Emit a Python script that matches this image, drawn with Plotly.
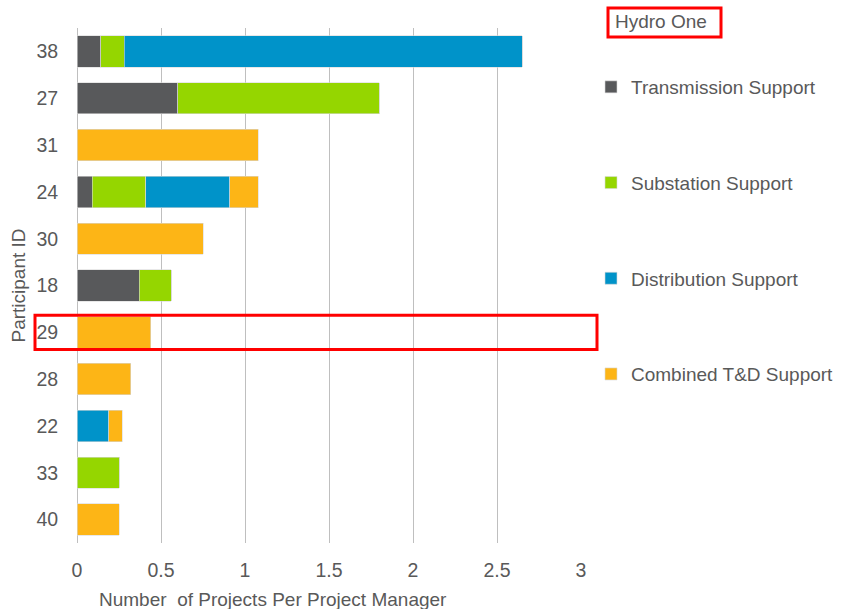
import plotly.graph_objects as go

participants = ["38", "27", "31", "24", "30", "18", "29", "28", "22", "33", "40"]
transmission = [0.14, 0.60, 0, 0.09, 0, 0.37, 0, 0, 0, 0, 0]
substation = [0.14, 1.20, 0, 0.32, 0, 0.19, 0, 0, 0, 0.25, 0]
distribution = [2.37, 0, 0, 0.50, 0, 0, 0, 0, 0.19, 0, 0]
combined = [0, 0, 1.08, 0.17, 0.75, 0, 0.44, 0.32, 0.08, 0, 0.25]

series_names = ["Transmission Support", "Substation Support", "Distribution Support", "Combined T&D Support"]
series_values = [transmission, substation, distribution, combined]
series_colors = ["#58595B", "#95D600", "#0093C9", "#FDB516"]

highlight = "29"
company = "Hydro One"
x_ticks = [0, 0.5, 1, 1.5, 2, 2.5, 3]
x_tick_text = ["0", "0.5", "1", "1.5", "2", "2.5", "3"]

FONT = "Arial, Liberation Sans, sans-serif"
TXT = "#595959"
L, R, T, B = 77, 581, 28, 543
PW, PH = R - L, B - T

fig = go.Figure()
for name, vals, col in zip(series_names, series_values, series_colors):
    fig.add_trace(go.Bar(
        y=participants, x=vals, name=name, orientation="h",
        marker=dict(color=col, line=dict(color="#D9D9D9", width=0.6)),
        legendgroup=name,
    ))

fig.update_layout(
    width=842, height=609,
    margin=dict(l=L, r=842 - R, t=T, b=609 - B, autoexpand=False),
    barmode="stack", bargap=0.33,
    plot_bgcolor="white", paper_bgcolor="white",
    font=dict(family=FONT, size=19, color=TXT),
    showlegend=True,
    legend=dict(
        x=(591 - L) / PW, xanchor="left", y=1 - (68 - T) / PH, yanchor="top",
        font=dict(size=19, color=TXT),
        tracegroupgap=68,
        traceorder="grouped",
        itemwidth=30,
        bgcolor="rgba(0,0,0,0)",
    ),
    xaxis=dict(
        range=[0, 3], tickvals=x_ticks, ticktext=x_tick_text,
        showgrid=True, gridcolor="#BFBFBF", gridwidth=1,
        zeroline=True, zerolinecolor="#BFBFBF", zerolinewidth=1,
        showline=False, ticks="outside", ticklen=10, tickcolor="rgba(0,0,0,0)",
        tickfont=dict(size=19.5, color=TXT), fixedrange=True,
    ),
    yaxis=dict(
        type="category", categoryorder="array", categoryarray=participants,
        autorange="reversed", showgrid=False, zeroline=False, showline=False,
        ticks="outside", ticklen=14, tickcolor="rgba(0,0,0,0)",
        tickfont=dict(size=19.5, color=TXT),
    ),
)

# axis titles
fig.add_annotation(text="Number  of Projects Per Project Manager", xref="paper", yref="paper",
                   x=(273 - L) / PW, y=-(599 - B) / PH, xanchor="center", yanchor="middle",
                   showarrow=False, font=dict(size=19, color=TXT))
fig.add_annotation(text="Participant ID", xref="paper", yref="paper",
                   x=-(L - 18) / PW, y=0.5, xanchor="center", yanchor="middle", textangle=-90,
                   showarrow=False, font=dict(size=19, color=TXT))

# company label with red box
fig.add_shape(type="rect", xref="paper", yref="paper",
              x0=(608 - L) / PW, x1=(721 - L) / PW,
              y0=1 + (T - 37) / PH, y1=1 + (T - 8) / PH,
              line=dict(color="#FF0000", width=3), fillcolor="white")
fig.add_annotation(text=company, xref="paper", yref="paper",
                   x=(613 - L) / PW, y=1 + (T - 22) / PH, xanchor="left", yanchor="middle",
                   showarrow=False, font=dict(size=19, color=TXT))

# highlight box around the highlighted participant row
n = len(participants)
idx = participants.index(highlight)
center = 1 - (idx + 0.5) / n
half = 0.365 / n
fig.add_shape(type="rect", xref="paper", yref="paper",
              x0=-(L - 35) / PW, x1=(597 - L) / PW,
              y0=center - half, y1=center + half,
              line=dict(color="#FF0000", width=3), fillcolor="rgba(0,0,0,0)")

fig.write_html("out.html")
